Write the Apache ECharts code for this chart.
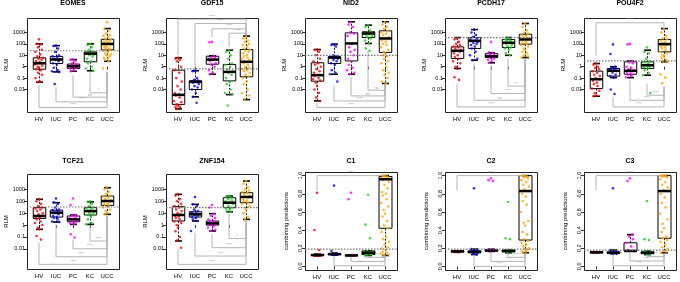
<!DOCTYPE html>
<html>
<head>
<meta charset="utf-8">
<script src="https://cdn.jsdelivr.net/npm/echarts/dist/echarts.min.js"></script>
<style>
html, body { margin: 0; padding: 0; background: #fff; }
#main { width: 680px; height: 282px; }
</style>
</head>
<body>
<div id="main"></div>
<script>
// groups and colours
var groups = ['HV', 'IUC', 'PC', 'KC', 'UCC'];
var groupColors = ['#ff0000', '#0000ff', '#ff00ff', '#22cc22', '#ffa500'];

// box stats per group: [min, Q1, median, Q3, max]  (RLM / score)
var eomesStats = [[0.045, 0.6, 2, 6, 100], [0.35, 1.9, 4.3, 8, 70], [0.4, 0.7, 1.1, 1.7, 4.2], [0.44, 2.7, 14, 20, 100], [3, 30, 100, 250, 2200]];
var eomesPoints = [
    [250, 100, 90, 50, 30, 20, 12, 8, 6, 5, 4, 3, 2.5, 2, 2, 1.6, 1.2, 1, 0.8, 0.6, 0.5, 0.3, 0.2, 0.1, 0.05, 0.045],
    [70, 65, 40, 20, 10, 8, 7, 5, 4.5, 4, 3, 2, 1.5, 0.8, 0.5, 0.4, 0.35, 0.03],
    [4.5, 4, 3, 2, 1.6, 1.3, 1.2, 1.1, 1, 0.9, 0.8, 0.7, 0.5, 0.4],
    [100, 80, 50, 30, 20, 18, 15, 14, 12, 10, 8, 5, 3, 2, 1, 0.7, 0.45],
    [8000, 2000, 1500, 800, 600, 500, 400, 300, 250, 200, 180, 150, 120, 100, 100, 90, 80, 70, 60, 50, 40, 35, 30, 25, 20, 15, 12, 10, 8, 6, 5, 4, 3, 0.7]
];
var gdf15Stats = [[0.0002, 0.0005, 0.0034, 0.5, 6], [0.0023, 0.01, 0.047, 0.058, 0.44], [0.22, 1.66, 4.2, 8.3, 9], [0.0036, 0.057, 0.35, 1.55, 28], [0.0013, 0.13, 2.7, 32, 480]];
var gdf15Points = [
    [6, 5, 4, 3, 1, 0.5, 0.3, 0.1, 0.05, 0.02, 0.01, 0.005, 0.004, 0.003, 0.002, 0.001, 0.0008, 0.0005, 0.0004, 0.0003, 0.0003, 0.0002],
    [0.44, 0.4, 0.1, 0.07, 0.06, 0.05, 0.045, 0.04, 0.03, 0.02, 0.015, 0.01, 0.005, 0.0023, 0.0007],
    [150, 140, 9, 7, 6, 5, 4, 3, 2, 1.5, 1, 0.5, 0.3, 0.22],
    [25, 20, 10, 5, 2, 1.5, 1, 0.6, 0.4, 0.3, 0.2, 0.1, 0.05, 0.03, 0.01, 0.005, 0.004, 0.0004],
    [400, 300, 200, 150, 100, 80, 60, 40, 30, 25, 20, 15, 10, 8, 6, 5, 4, 3, 2.5, 2, 1.5, 1, 0.8, 0.6, 0.5, 0.4, 0.3, 0.2, 0.15, 0.1, 0.05, 0.03, 0.01, 0.005, 0.003, 0.0015]
];
var nid2Stats = [[0.001, 0.054, 0.18, 2.2, 32], [0.22, 1.9, 6.3, 7.4, 95], [0.22, 3.2, 110, 930, 8700], [110, 360, 820, 1150, 4400], [0.034, 18, 300, 1400, 8700]];
var nid2Points = [
    [32, 30, 20, 10, 5, 3, 2, 1.5, 1, 0.6, 0.4, 0.3, 0.2, 0.15, 0.1, 0.08, 0.06, 0.04, 0.02, 0.01, 0.005, 0.002, 0.001],
    [90, 80, 60, 10, 8, 7, 6.5, 6, 5, 4, 3, 2, 1.5, 0.5, 0.3, 0.22, 0.05],
    [8000, 5000, 3000, 1000, 800, 500, 100, 50, 30, 20, 10, 5, 3, 1.5, 0.8, 0.5, 0.3, 0.22],
    [4000, 3000, 1500, 1000, 900, 800, 700, 600, 500, 400, 300, 200, 110, 40, 25],
    [8000, 5000, 3000, 2000, 1500, 1000, 800, 600, 400, 300, 250, 200, 150, 100, 80, 50, 30, 20, 15, 10, 8, 5, 3, 2, 1, 0.5, 0.3, 0.2, 0.1, 0.05, 0.035]
];
var pcdh17Stats = [[0.7, 5.2, 25, 55, 360], [3.7, 40, 185, 360, 1800], [2.2, 6.5, 8.3, 14, 17], [10, 48, 125, 240, 360], [6.3, 95, 245, 700, 6100]];
var pcdh17Points = [
    [300, 250, 150, 100, 80, 60, 50, 40, 30, 25, 20, 15, 10, 7, 5, 3, 2, 1, 0.7, 0.12, 0.07],
    [1800, 1000, 600, 400, 300, 250, 200, 180, 150, 120, 100, 80, 60, 40, 20, 10, 5, 3.7],
    [150, 17, 15, 12, 10, 9, 8, 7, 6.5, 6, 5, 4, 3, 2.2],
    [300, 250, 200, 180, 150, 130, 120, 100, 80, 60, 50, 40, 30, 15, 10],
    [6000, 3000, 1500, 1000, 800, 600, 500, 400, 350, 300, 250, 200, 150, 120, 100, 80, 60, 40, 30, 20, 15, 10, 8, 6.3]
];
var pou4f2Stats = [[0.0026, 0.012, 0.08, 0.41, 1.9], [0.11, 0.15, 0.44, 0.7, 1], [0.11, 0.22, 0.44, 2.7, 3.2], [0.18, 0.7, 1.35, 2.7, 28], [2.7, 20, 95, 245, 2200]];
var pou4f2Points = [
    [1.9, 1.5, 1, 0.8, 0.6, 0.4, 0.3, 0.2, 0.15, 0.1, 0.08, 0.06, 0.04, 0.03, 0.02, 0.012, 0.008, 0.005, 0.003, 0.0026],
    [90, 13, 1, 0.8, 0.7, 0.6, 0.5, 0.45, 0.4, 0.3, 0.2, 0.15, 0.11, 0.01, 0.004],
    [100, 90, 3, 2.5, 2, 1, 0.8, 0.6, 0.5, 0.45, 0.4, 0.3, 0.25, 0.2, 0.15, 0.12],
    [50, 20, 15, 5, 3, 2.5, 2, 1.5, 1.3, 1.2, 1, 0.9, 0.7, 0.5, 0.3, 0.18, 0.005],
    [2000, 1000, 500, 300, 250, 200, 150, 120, 100, 90, 80, 60, 50, 40, 30, 20, 15, 10, 8, 6, 4, 3, 2.7, 0.22, 0.11, 0.035]
];
var tcf21Stats = [[0.44, 3.6, 5.8, 29, 145], [1.8, 4.7, 11, 18, 76], [1.15, 1.9, 3, 5.8, 7], [1.15, 7, 15, 29, 90], [8, 45, 105, 275, 1380]];
var tcf21Points = [
    [150, 100, 60, 40, 30, 25, 20, 15, 10, 8, 6, 5, 4, 3, 2, 1.5, 1, 0.6, 0.44, 0.12, 0.06],
    [170, 80, 60, 30, 20, 18, 15, 12, 11, 10, 8, 6, 5, 4, 3, 2, 1.8],
    [170, 48, 7, 6, 5, 4, 3.5, 3, 2.5, 2, 1.8, 1.5, 1.15, 0.17, 0.09],
    [100, 90, 60, 40, 30, 25, 20, 15, 12, 10, 8, 7, 5, 3, 1.5, 1.15],
    [1500, 1000, 600, 400, 300, 250, 200, 150, 120, 100, 90, 80, 60, 50, 40, 30, 20, 15, 10, 8]
];
var znf154Stats = [[0.046, 2.2, 7, 35, 380], [2.2, 4.7, 8, 13, 55], [0.32, 1, 1.4, 2.2, 9], [13, 29, 76, 200, 275], [3, 76, 230, 525, 5000]];
var znf154Points = [
    [400, 300, 150, 100, 60, 40, 30, 20, 15, 10, 8, 6, 5, 4, 3, 2, 1.5, 1, 0.6, 0.3, 0.1, 0.05, 0.0125],
    [230, 55, 40, 20, 15, 12, 10, 9, 8, 7, 6, 5, 4, 3, 2.2, 0.32],
    [50, 30, 9, 6, 4, 3, 2.2, 2, 1.8, 1.5, 1.4, 1.2, 1.1, 1, 0.8, 0.6, 0.4, 0.32],
    [280, 250, 200, 150, 120, 100, 80, 70, 60, 40, 30, 25, 20, 15, 13],
    [5000, 3000, 1500, 1000, 800, 600, 500, 400, 300, 250, 200, 150, 120, 100, 80, 60, 40, 30, 20, 10, 5, 3]
];
var c1Stats = [[0.115, 0.12, 0.125, 0.13, 0.135], [0.125, 0.13, 0.135, 0.14, 0.145], [0.12, 0.12, 0.12, 0.125, 0.125], [0.12, 0.13, 0.15, 0.17, 0.17], [0.12, 0.42, 0.96, 0.99, 1.0]];
var c1Points = [
    [0.81, 0.40, 0.18, 0.13, 0.13, 0.125, 0.125, 0.12, 0.12, 0.12, 0.12, 0.115],
    [0.89, 0.17, 0.14, 0.14, 0.135, 0.135, 0.13, 0.13, 0.13, 0.125],
    [0.81, 0.74, 0.125, 0.12, 0.12, 0.12, 0.12],
    [0.79, 0.46, 0.31, 0.17, 0.16, 0.15, 0.15, 0.14, 0.14, 0.13, 0.13, 0.12],
    [1.0, 1.0, 0.99, 0.99, 0.98, 0.97, 0.96, 0.95, 0.93, 0.9, 0.86, 0.82, 0.8, 0.78, 0.74, 0.7, 0.66, 0.62, 0.58, 0.55, 0.5, 0.45, 0.42, 0.38, 0.33, 0.3, 0.27, 0.24, 0.21, 0.2, 0.18, 0.16, 0.15, 0.14, 0.13, 0.12]
];
var c2Stats = [[0.155, 0.16, 0.165, 0.17, 0.17], [0.13, 0.15, 0.16, 0.17, 0.19], [0.165, 0.17, 0.175, 0.18, 0.19], [0.15, 0.16, 0.17, 0.18, 0.18], [0.15, 0.29, 0.83, 1.0, 1.0]];
var c2Points = [
    [0.17, 0.17, 0.165, 0.165, 0.16, 0.16, 0.155],
    [0.86, 0.19, 0.18, 0.17, 0.17, 0.16, 0.16, 0.155, 0.15, 0.14, 0.13],
    [0.97, 0.95, 0.94, 0.19, 0.18, 0.18, 0.175, 0.17, 0.17, 0.165],
    [0.71, 0.31, 0.3, 0.18, 0.18, 0.17, 0.17, 0.165, 0.16, 0.15],
    [1.0, 1.0, 0.99, 0.98, 0.97, 0.95, 0.93, 0.9, 0.88, 0.85, 0.83, 0.8, 0.77, 0.72, 0.68, 0.6, 0.5, 0.48, 0.45, 0.38, 0.35, 0.3, 0.28, 0.26, 0.24, 0.22, 0.2, 0.19, 0.18, 0.17, 0.16, 0.15]
];
var c3Stats = [[0.15, 0.15, 0.155, 0.16, 0.16], [0.14, 0.145, 0.15, 0.16, 0.18], [0.17, 0.17, 0.17, 0.26, 0.35], [0.13, 0.14, 0.15, 0.16, 0.17], [0.15, 0.31, 0.83, 1.0, 1.0]];
var c3Points = [
    [0.16, 0.16, 0.155, 0.155, 0.15, 0.15],
    [0.86, 0.18, 0.16, 0.16, 0.155, 0.15, 0.15, 0.145, 0.14, 0.14],
    [0.97, 0.94, 0.35, 0.33, 0.3, 0.26, 0.22, 0.18, 0.17, 0.17, 0.17],
    [0.72, 0.3, 0.29, 0.17, 0.16, 0.16, 0.15, 0.15, 0.14, 0.14, 0.13],
    [1.0, 1.0, 1.0, 0.99, 0.98, 0.96, 0.93, 0.9, 0.87, 0.84, 0.83, 0.8, 0.76, 0.7, 0.65, 0.58, 0.52, 0.47, 0.42, 0.38, 0.33, 0.31, 0.29, 0.27, 0.24, 0.21, 0.19, 0.17, 0.16, 0.15]
];

// dotted cut-off line of each panel
var cutoffs = [25, 0.65, 10, 360, 3.2, 33, 29, 0.19, 0.19, 0.18];

// RLM tick labels
var rlmTicks = [0.01, 0.1, 1, 10, 100, 1000];
var rlmTickLabels = ['0.01', '0.1', '1', '10', '100', '1000'];
var scoreTicks = [0, 0.2, 0.4, 0.6, 0.8, 1.0];

// comparison brackets: [from, to, level, tip at from, tip at to, label] (axis units)
var eomesBr = [[3, 4, -2.29, -0.45, -0.45, '*'], [2, 4, -2.67, -0.74, -0.45, 'ns'], [1, 4, -3.08, -1.77, -0.45, '****'], [0, 4, -3.58, -1.62, -0.45, '****']];
var gdf15Br = [[0, 4, 4.17, 1.0, 2.75, '****'], [1, 4, 3.79, -0.16, 2.75, '****'], [2, 4, 3.32, 2.62, 2.75, '****'], [3, 4, 2.94, 1.74, 2.75, '****']];
var nid2Br = [[3, 4, -2.06, 1.45, -1.6, 'ns'], [2, 4, -2.56, -0.9, -1.6, 'ns'], [1, 4, -3.0, -1.6, -1.6, '****'], [0, 4, -3.58, -3.2, -1.6, '****']];
var pcdh17Br = [[3, 4, -1.71, 0.72, 0.63, '**'], [2, 4, -2.35, 0.13, 0.63, '****'], [1, 4, -2.94, 0.28, 0.63, 'ns'], [0, 4, -3.52, -1.47, 0.63, '****']];
var pou4f2Br = [[0, 4, 3.85, 0.97, 3.55, '****'], [3, 4, -2.5, -1.47, -1.77, '****'], [2, 4, -2.94, -1.18, -1.77, '****'], [1, 4, -3.52, -2.64, -1.77, '****']];
var tcf21Br = [[3, 4, -1.34, -0.08, 0.76, '****'], [2, 4, -1.99, -1.2, 0.76, '****'], [1, 4, -2.66, 0.06, 0.76, '****'], [0, 4, -3.3, -1.48, 0.76, '****']];
var znf154Br = [[3, 4, -1.12, 0.96, 0.34, '*'], [2, 4, -1.9, -0.78, 0.34, '****'], [1, 4, -2.6, -0.64, 0.34, '****'], [0, 4, -3.3, -2.04, 0.34, '****']];
var c1Br = [[0, 4, 1.0, 0.84, 1.0, '****'], [3, 4, 0.1, 0.12, 0.12, '****'], [2, 4, 0.055, 0.11, 0.12, '****'], [1, 4, 0.007, 0.12, 0.12, '****']];
var c2Br = [[0, 4, 1.0, 0.84, 1.0, '****'], [3, 4, 0.1, 0.14, 0.14, '****'], [2, 4, 0.055, 0.15, 0.14, '****'], [1, 4, 0.0, 0.13, 0.14, '****']];
var c3Br = [[0, 4, 1.0, 0.84, 1.0, '****'], [3, 4, 0.107, 0.13, 0.14, '****'], [2, 4, 0.06, 0.15, 0.14, '****'], [1, 4, 0.007, 0.13, 0.14, '****']];

var panels = [
    ['EOMES', eomesStats, eomesPoints, eomesBr, true],
    ['GDF15', gdf15Stats, gdf15Points, gdf15Br, true],
    ['NID2', nid2Stats, nid2Points, nid2Br, true],
    ['PCDH17', pcdh17Stats, pcdh17Points, pcdh17Br, true],
    ['POU4F2', pou4f2Stats, pou4f2Points, pou4f2Br, true],
    ['TCF21', tcf21Stats, tcf21Points, tcf21Br, true],
    ['ZNF154', znf154Stats, znf154Points, znf154Br, true],
    ['C1', c1Stats, c1Points, c1Br, false],
    ['C2', c2Stats, c2Points, c2Br, false],
    ['C3', c3Stats, c3Points, c3Br, false]
];

// layout
var hvX = [39, 178, 317, 457, 596];   // x of first category in each column
var band = 17;
var framePad = 12;
var rowTop = [18, 174], rowHeight = [94, 95], rowRange = [[-3.97, 4.27], [-3.69, 4.29]];
var scoreTop = 172, scoreHeight = 98, scoreRange = [-0.04, 1.04];
var titleY = [3.5, 161];
var jitter = [0, -2.5, 2, -1, 3, -3.5, 1.2, -1.8, 3.8, -0.5, 2.6, -3, 0.8, -2.2, 1.6, -4, 3.3, -1.3];

function boxRender(boxW, part) {
    return function (params, api) {
        var i = api.value(0);
        var lo = api.coord([i, api.value(1)]);
        var q1 = api.coord([i, api.value(2)]);
        var md = api.coord([i, api.value(3)]);
        var q3 = api.coord([i, api.value(4)]);
        var hi = api.coord([i, api.value(5)]);
        var x = Math.round(lo[0]) + 0.5, hw = boxW / 2;
        if (part === 'median') {
            return {
                type: 'line',
                shape: { x1: x - hw, y1: md[1], x2: x + hw, y2: md[1] },
                style: { stroke: '#000', lineWidth: 2.5 }
            };
        }
        var dash = { stroke: '#000', lineWidth: 0.9, lineDash: [2, 1.5] };
        var cap = { stroke: '#000', lineWidth: 1.6 };
        return {
            type: 'group',
            children: [
                { type: 'line', shape: { x1: x, y1: q3[1], x2: x, y2: hi[1] }, style: dash },
                { type: 'line', shape: { x1: x, y1: q1[1], x2: x, y2: lo[1] }, style: dash },
                { type: 'line', shape: { x1: x - 3.5, y1: hi[1], x2: x + 3.5, y2: hi[1] }, style: cap },
                { type: 'line', shape: { x1: x - 3.5, y1: lo[1], x2: x + 3.5, y2: lo[1] }, style: cap },
                {
                    type: 'rect',
                    shape: { x: x - hw, y: q3[1], width: boxW, height: q1[1] - q3[1] },
                    style: { fill: 'none', stroke: '#000', lineWidth: 1 }
                }
            ]
        };
    };
}

function bracketRender(specs) {
    return function (params, api) {
        var s = specs[params.dataIndex];
        var a0 = api.coord([s[0], s[3]]), a1 = api.coord([s[0], s[2]]);
        var b1 = api.coord([s[1], s[2]]), b0 = api.coord([s[1], s[4]]);
        var below = s[2] < s[3];
        return {
            type: 'group',
            children: [
                {
                    type: 'polyline',
                    shape: { points: [a0, a1, b1, b0] },
                    style: { stroke: '#b4b4b4', lineWidth: 1, fill: null }
                },
                {
                    type: 'text',
                    style: {
                        text: s[5], x: (a1[0] + b1[0]) / 2, y: a1[1] - 0.5,
                        align: 'center', verticalAlign: 'bottom',
                        fontSize: 4, fill: '#999'
                    }
                }
            ]
        };
    };
}

function cutRender(params, api) {
    var y = api.coord([0, api.value(1)])[1];
    var cs = params.coordSys;
    return {
        type: 'line',
        shape: { x1: cs.x - 3.5, y1: y, x2: cs.x + cs.width + 3.5, y2: y },
        style: { stroke: '#777', lineWidth: 1.2, lineDash: [1.5, 1.5] }
    };
}

var option = {
    animation: false,
    textStyle: { fontFamily: 'Liberation Sans, Arial, sans-serif' },
    grid: [], xAxis: [], yAxis: [], series: [], graphic: []
};

panels.forEach(function (p, k) {
    var col = k % 5, row = k < 5 ? 0 : 1;
    var isLog = p[4];
    var tr = isLog ? function (v) { return Math.log10(v); } : function (v) { return v; };
    var hv = hvX[col];
    var top = isLog ? rowTop[row] : scoreTop;
    var h = isLog ? rowHeight[row] : scoreHeight;
    var range = isLog ? rowRange[row] : scoreRange;
    var ticks = isLog ? rlmTicks.map(tr) : scoreTicks;

    option.grid.push({ left: hv - band / 2, top: top, width: band * 5, height: h, containLabel: false });
    option.xAxis.push({
        type: 'category', gridIndex: k, data: groups,
        axisLine: { show: false },
        axisTick: { show: true, alignWithLabel: true, length: 3, lineStyle: { color: '#000', width: 0.8 } },
        axisLabel: { interval: 0, fontSize: 6, color: '#000', margin: 4 }
    });
    option.yAxis.push({
        type: 'value', gridIndex: k, min: range[0], max: range[1],
        offset: framePad - band / 2,
        name: isLog ? 'RLM' : 'combining predictions',
        nameLocation: 'middle', nameGap: isLog ? 13 : 16,
        nameTextStyle: { fontSize: 6, color: '#000' },
        axisLine: { show: false },
        splitLine: { show: false },
        axisTick: { show: true, length: 3, customValues: ticks, lineStyle: { color: '#000', width: 0.8 } },
        axisLabel: {
            fontSize: isLog ? 5.5 : 5.5, color: '#000', margin: 2,
            rotate: isLog ? 0 : 90,
            customValues: ticks,
            formatter: function (v) {
                if (isLog) {
                    var j = ticks.findIndex(function (t) { return Math.abs(t - v) < 1e-6; });
                    return j >= 0 ? rlmTickLabels[j] : '';
                }
                return v.toFixed(1);
            }
        }
    });

    var boxData = p[1].map(function (s, g) {
        return [g, tr(s[0]), tr(s[1]), tr(s[2]), tr(s[3]), tr(s[4])];
    });
    var boxW = isLog ? 12.5 : 13;

    option.series.push({
        type: 'custom', xAxisIndex: k, yAxisIndex: k, z: 1, silent: true,
        renderItem: boxRender(boxW, 'box'),
        encode: { x: 0, y: [1, 2, 3, 4, 5] },
        data: boxData
    });

    var pts = [];
    p[2].forEach(function (list, g) {
        list.forEach(function (v, n) {
            pts.push({
                value: [g, tr(v)],
                symbolOffset: [jitter[n % jitter.length], 0],
                itemStyle: { color: groupColors[g] }
            });
        });
    });
    option.series.push({
        type: 'scatter', xAxisIndex: k, yAxisIndex: k, z: 2, silent: true,
        symbol: 'circle', symbolSize: 2.6,
        data: pts
    });

    option.series.push({
        type: 'custom', xAxisIndex: k, yAxisIndex: k, z: 3, silent: true,
        renderItem: boxRender(boxW, 'median'),
        encode: { x: 0, y: [1, 2, 3, 4, 5] },
        data: boxData
    });

    option.series.push({
        type: 'custom', xAxisIndex: k, yAxisIndex: k, z: 4, silent: true,
        renderItem: cutRender,
        data: [[0, tr(cutoffs[k])]]
    });

    option.series.push({
        type: 'custom', xAxisIndex: k, yAxisIndex: k, z: 1, silent: true,
        renderItem: bracketRender(p[3]),
        data: p[3].map(function (s) { return [s[0], s[2]]; })
    });

    // frame and title
    option.graphic.push({
        type: 'rect', silent: true, z: 0,
        shape: { x: hv - framePad + 0.5, y: top + 0.5, width: band * 4 + framePad * 2, height: h },
        style: { fill: 'none', stroke: '#222', lineWidth: 1 }
    });
    option.graphic.push({
        type: 'text', silent: true,
        x: hv + band * 2, y: titleY[row],
        style: {
            text: p[0], fill: '#000', fontSize: 7, fontWeight: 'bold',
            fontFamily: 'Liberation Sans, Arial, sans-serif',
            align: 'center', verticalAlign: 'middle'
        }
    });
});

var myChart = echarts.init(document.getElementById('main'));
myChart.setOption(option);
window.onresize = myChart.resize;
</script>
</body>
</html>
